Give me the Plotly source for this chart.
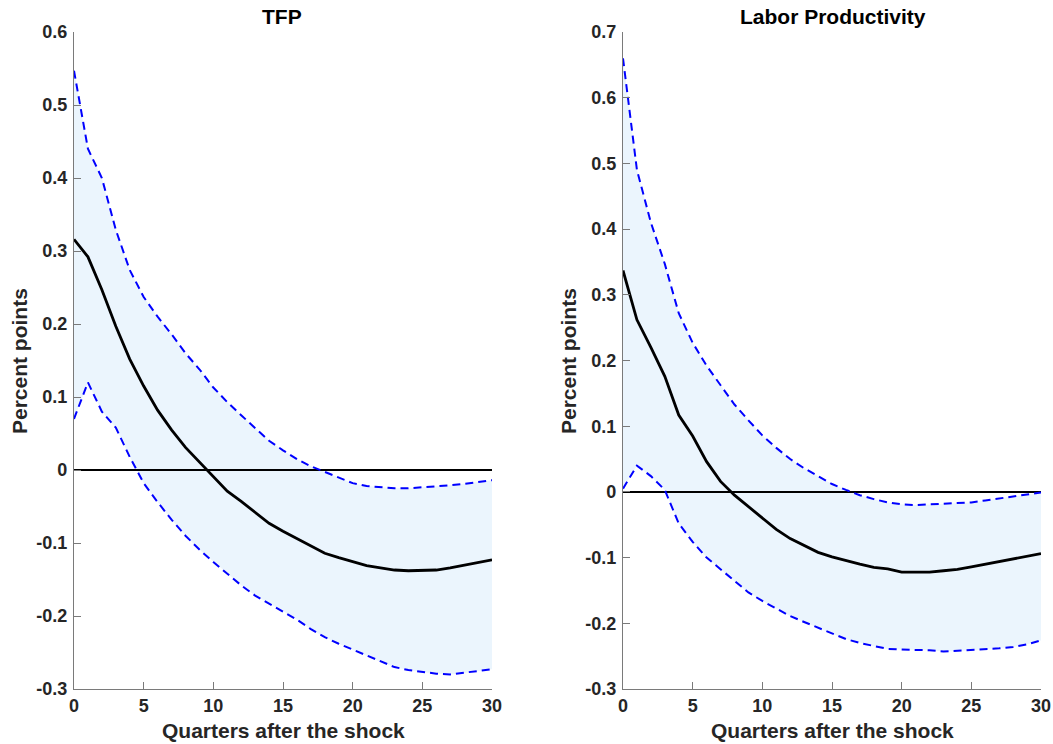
import plotly.graph_objects as go

quarters = list(range(31))

tfp_mid = [0.316, 0.292, 0.247, 0.197, 0.152, 0.115, 0.082, 0.055, 0.031, 0.011,
           -0.009, -0.029, -0.043, -0.058, -0.073, -0.084, -0.094, -0.104, -0.114, -0.120,
           -0.126, -0.131, -0.134, -0.137, -0.138, -0.137, -0.137, -0.134, -0.130, -0.127, -0.123]
tfp_up = [0.547, 0.440, 0.400, 0.329, 0.274, 0.237, 0.210, 0.186, 0.160, 0.138,
          0.113, 0.093, 0.075, 0.057, 0.040, 0.027, 0.015, 0.005, -0.003, -0.011,
          -0.018, -0.022, -0.024, -0.025, -0.025, -0.024, -0.023, -0.021, -0.019, -0.016, -0.014]
tfp_lo = [0.070, 0.120, 0.080, 0.058, 0.018, -0.018, -0.044, -0.068, -0.090, -0.109,
          -0.126, -0.142, -0.158, -0.172, -0.183, -0.193, -0.205, -0.218, -0.229, -0.238,
          -0.246, -0.255, -0.263, -0.270, -0.274, -0.277, -0.279, -0.280, -0.278, -0.276, -0.273]

lp_mid = [0.337, 0.262, 0.220, 0.176, 0.117, 0.085, 0.046, 0.016, -0.005, -0.022,
          -0.040, -0.057, -0.071, -0.082, -0.092, -0.099, -0.105, -0.110, -0.115, -0.117,
          -0.122, -0.122, -0.122, -0.120, -0.118, -0.114, -0.110, -0.105, -0.102, -0.098, -0.094]
lp_up = [0.660, 0.490, 0.410, 0.347, 0.272, 0.227, 0.192, 0.163, 0.133, 0.109,
         0.086, 0.067, 0.050, 0.036, 0.024, 0.012, 0.003, -0.005, -0.011, -0.016,
         -0.019, -0.020, -0.019, -0.018, -0.017, -0.016, -0.013, -0.010, -0.007, -0.004, -0.001]
lp_lo = [0.005, 0.040, 0.024, 0.003, -0.048, -0.076, -0.100, -0.118, -0.136, -0.153,
         -0.166, -0.178, -0.189, -0.198, -0.207, -0.216, -0.224, -0.230, -0.235, -0.239,
         -0.240, -0.240, -0.241, -0.243, -0.242, -0.241, -0.240, -0.238, -0.236, -0.232, -0.226]

x_ticks = [0, 5, 10, 15, 20, 25, 30]
y_ticks_left = [-0.3, -0.2, -0.1, 0, 0.1, 0.2, 0.3, 0.4, 0.5, 0.6]
y_ticks_right = [-0.3, -0.2, -0.1, 0, 0.1, 0.2, 0.3, 0.4, 0.5, 0.6, 0.7]
titles = ["TFP", "Labor Productivity"]
x_title = "Quarters after the shock"
y_title = "Percent points"


def fmt(v):
    return "%g" % round(v, 2)


FONT = "Liberation Sans, Arial, sans-serif"
fig = go.Figure()

panels = [(tfp_mid, tfp_up, tfp_lo, "x", "y"), (lp_mid, lp_up, lp_lo, "x2", "y2")]
for mid, up, lo, xa, ya in panels:
    fig.add_trace(go.Scatter(x=quarters + quarters[::-1], y=up + lo[::-1], fill="toself",
                             fillcolor="#EBF5FD", line=dict(width=0), mode="lines",
                             xaxis=xa, yaxis=ya, showlegend=False, hoverinfo="skip"))
    fig.add_trace(go.Scatter(x=[quarters[0], quarters[-1]], y=[0, 0], mode="lines",
                             line=dict(color="black", width=2), xaxis=xa, yaxis=ya, showlegend=False))
    for band in (up, lo):
        fig.add_trace(go.Scatter(x=quarters, y=band, mode="lines",
                                 line=dict(color="#0000FF", width=2, dash="8px,5px"),
                                 xaxis=xa, yaxis=ya, showlegend=False))
    fig.add_trace(go.Scatter(x=quarters, y=mid, mode="lines",
                             line=dict(color="black", width=2.8), xaxis=xa, yaxis=ya, showlegend=False))

W, H = 1053, 744
x1 = [74 / W, 492 / W]
x2 = [623 / W, 1041 / W]
ydom = [(H - 689) / H, (H - 32) / H]

common_ax = dict(showline=True, linecolor="#7a7a7a", linewidth=1.3, ticks="inside", ticklen=7,
                 tickcolor="#7a7a7a", tickwidth=1.3, showgrid=False, zeroline=False,
                 tickfont=dict(family=FONT, size=18, color="#262626", weight="bold"))

fig.update_layout(
    width=W, height=H, margin=dict(l=0, r=0, t=0, b=0, autoexpand=False),
    plot_bgcolor="white", paper_bgcolor="white",
    xaxis=dict(domain=x1, range=[0, 30], tickvals=x_ticks, ticktext=[str(t) for t in x_ticks],
               anchor="y", **common_ax),
    yaxis=dict(domain=ydom, range=[-0.3, 0.6], tickvals=y_ticks_left,
               ticktext=[fmt(v) for v in y_ticks_left], anchor="x", ticklabelstandoff=2, **common_ax),
    xaxis2=dict(domain=x2, range=[0, 30], tickvals=x_ticks, ticktext=[str(t) for t in x_ticks],
                anchor="y2", **common_ax),
    yaxis2=dict(domain=ydom, range=[-0.3, 0.7], tickvals=y_ticks_right,
                ticktext=[fmt(v) for v in y_ticks_right], anchor="x2", ticklabelstandoff=2, **common_ax),
)

ann = []
title_cx = [282 / W, 833 / W]
for i, dom in enumerate([x1, x2]):
    cx = (dom[0] + dom[1]) / 2
    ann.append(dict(text="<b>%s</b>" % titles[i], x=title_cx[i], y=1 - 17 / H, xref="paper", yref="paper",
                    showarrow=False, xanchor="center", yanchor="middle",
                    font=dict(family=FONT, size=21, color="black")))
    ann.append(dict(text="<b>%s</b>" % x_title, x=cx, y=1 - 730 / H, xref="paper", yref="paper",
                    showarrow=False, xanchor="center", yanchor="middle",
                    font=dict(family=FONT, size=21, color="#262626")))
    ann.append(dict(text="<b>%s</b>" % y_title, x=(19 if i == 0 else 568) / W, y=1 - 361 / H,
                    xref="paper", yref="paper", showarrow=False, xanchor="center", yanchor="middle",
                    textangle=-90, font=dict(family=FONT, size=21, color="#262626")))
fig.update_layout(annotations=ann)

fig.write_html("out.html")
